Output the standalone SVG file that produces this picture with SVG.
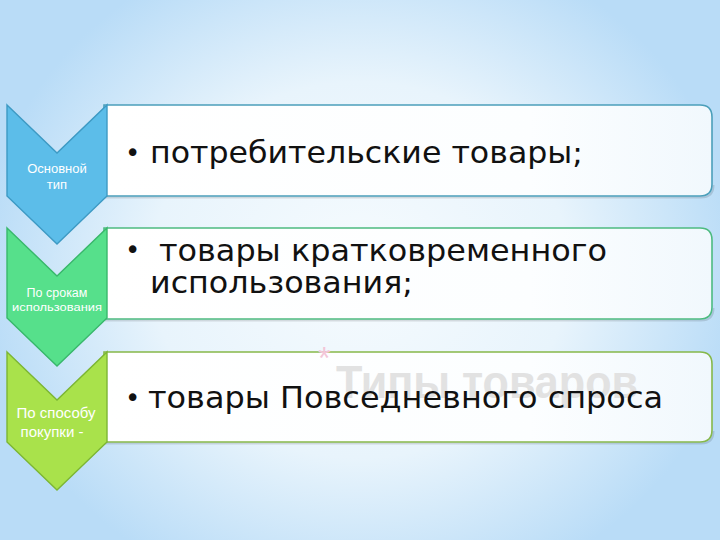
<svg xmlns="http://www.w3.org/2000/svg" width="720" height="540" viewBox="0 0 720 540">
<defs>
<radialGradient id="bg" gradientUnits="userSpaceOnUse" cx="360" cy="270" r="380" gradientTransform="translate(360 270) scale(1 0.9) translate(-360 -270)">
<stop offset="0" stop-color="#f6fbfe"/>
<stop offset="0.55" stop-color="#e8f4fc"/>
<stop offset="1" stop-color="#b9dcf7"/>
</radialGradient>
<linearGradient id="boxfill" x1="0" y1="0" x2="1" y2="0">
<stop offset="0" stop-color="#ffffff"/>
<stop offset="0.7" stop-color="#fcfeff"/>
<stop offset="1" stop-color="#f1f8fd"/>
</linearGradient>
<style>
.box{fill:url(#boxfill);stroke-width:1.6}
.shadow{fill:none;stroke:#000;stroke-opacity:0.12;stroke-width:2}
.chev{stroke-width:1.4}
.ct{font-family:"Liberation Sans",Arial,sans-serif;fill:#ffffff;text-anchor:middle}
.mt{font-family:"DejaVu Sans","Liberation Sans",sans-serif;font-size:30px;fill:#111111}
.bul{font-family:"DejaVu Sans","Liberation Sans",sans-serif;font-size:26px;fill:#111111}
</style>
</defs>
<rect x="0" y="0" width="720" height="540" fill="url(#bg)"/>

<g id="box1">
<path class="shadow" d="M105,197.5 H701 Q713.5,197.5 713.5,185"/>
<path class="box" stroke="#4b9fba" d="M104,105 H700 Q712,105 712,117 V184 Q712,196 700,196 H104 Z"/>
<text class="bul" x="125" y="162">•</text>
<text class="mt" x="150" y="163" textLength="433" lengthAdjust="spacingAndGlyphs">потребительские товары;</text>
</g>

<g id="box2">
<path class="shadow" d="M105,320.5 H701 Q713.5,320.5 713.5,308"/>
<path class="box" stroke="#4dbb80" d="M104,228 H700 Q712,228 712,240 V307 Q712,319 700,319 H104 Z"/>
<text class="bul" x="125" y="259">•</text>
<text class="mt" x="159" y="261" textLength="448" lengthAdjust="spacingAndGlyphs">товары кратковременного</text>
<text class="mt" x="150" y="293" textLength="263" lengthAdjust="spacingAndGlyphs">использования;</text>
</g>

<g id="box3">
<path class="shadow" d="M105,443.5 H701 Q713.5,443.5 713.5,431"/>
<path class="box" stroke="#86b84a" d="M104,352 H700 Q712,352 712,364 V430 Q712,442 700,442 H104 Z"/>
<g id="watermark-title">
<text x="318" y="369" font-family="Liberation Sans,Arial,sans-serif" font-size="32" fill="#f3c6d8">*</text>
<text x="336" y="398" font-family="Liberation Sans,Arial,sans-serif" font-size="46" font-weight="bold" fill="#e2e2e2" textLength="302" lengthAdjust="spacingAndGlyphs">Типы товаров</text>
</g>
<text class="bul" x="125" y="407">•</text>
<text class="mt" x="148" y="408" textLength="515" lengthAdjust="spacingAndGlyphs">товары Повседневного спроса</text>
</g>

<g id="chevron1">
<path class="chev" fill="#5cbde9" stroke="#3d9ac4" d="M7,105 L57,153 L107,105 L107,196 L57,244 L7,196 Z"/>
<text class="ct" x="57" y="173" font-size="13">Основной</text>
<text class="ct" x="57" y="189" font-size="13">тип</text>
</g>

<g id="chevron2">
<path class="chev" fill="#56e08b" stroke="#38b86b" d="M7,228 L57,276 L107,228 L107,318 L57,366 L7,318 Z"/>
<text class="ct" x="57" y="297" font-size="12.5">По срокам</text>
<text class="ct" x="57" y="311" font-size="11" textLength="90" lengthAdjust="spacingAndGlyphs">использования</text>
</g>

<g id="chevron3">
<path class="chev" fill="#a9e24b" stroke="#7cb633" d="M7,352 L57,400 L107,352 L107,442 L57,490 L7,442 Z"/>
<text class="ct" x="56" y="418" font-size="15">По способу</text>
<text class="ct" x="52" y="437" font-size="15">покупки -</text>
</g>

<g id="connectors"/>
</svg>
